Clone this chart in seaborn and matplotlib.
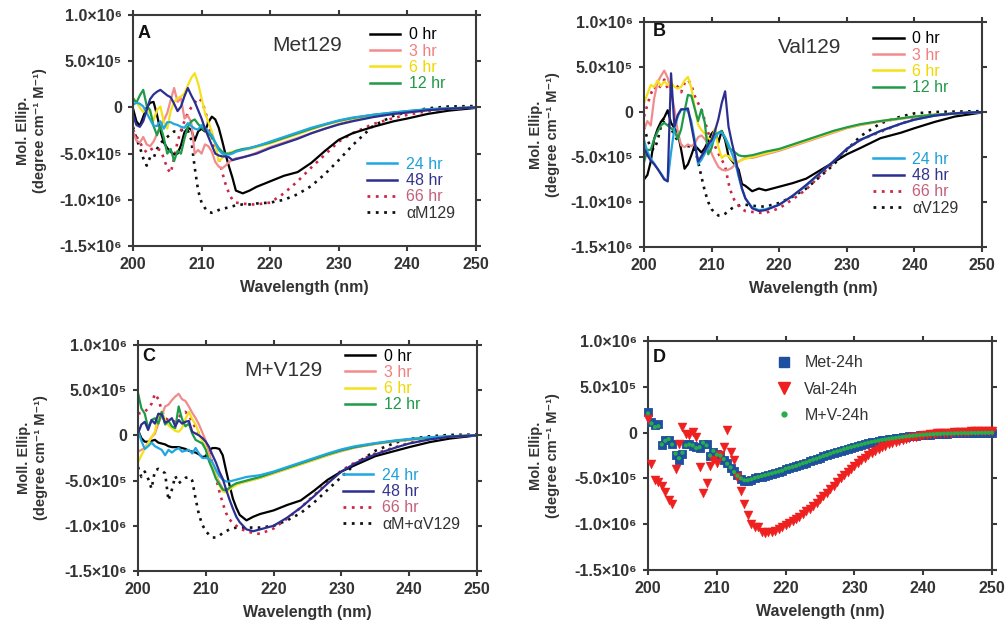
import matplotlib
matplotlib.use("Agg")
import matplotlib.pyplot as plt
from matplotlib.lines import Line2D
import numpy as np
import seaborn as sns

plt.rcParams['font.family'] = ['Liberation Sans', 'DejaVu Sans']

# wavelength sampling (nm): 0.5 nm over the noisy far-UV part, sparser along the tail
wl_noisy = np.arange(200, 215.5, 0.5)
wl_tail = [216, 217, 218, 220, 222, 224, 226, 228, 230, 232, 235, 238, 240, 243, 246, 250]
wl = np.concatenate([wl_noisy, wl_tail])

# all ellipticities in units of 1e5 degree cm-1 M-1
# --- panel A: Met129 ---
a_0 = [-0.1, -1.5, -2.0, -1.0, 0.0, 0.5, 0.6, -0.8, -2.5, -3.8, -4.4, -4.8, -5.1, -5.0, -4.1, -2.7,
       -2.2, -2.4, -3.6, -2.6, -2.3, -2.6, -1.6, -1.0, -1.3, -2.2, -3.6, -5.1, -6.4, -7.6, -9.0,
       -9.3, -9.0, -8.6, -8.0, -7.4, -7.0, -6.0, -4.7, -3.5, -2.8, -2.1, -1.5, -1.2, -0.7, -0.35, -0.05]
a_3 = [-2.6, -3.6, -3.8, -3.2, -4.0, -4.2, -3.7, -2.9, -2.0, -1.4, -0.6, 0.8, 2.1, 0.6, 1.0, -1.2,
       -0.9, -1.6, -5.0, -4.6, -5.0, -4.0, -4.2, -4.8, -5.9, -6.4, -6.6, -6.3, -5.9, -5.7, -5.5,
       -5.4, -5.2, -4.9, -4.3, -3.8, -3.3, -2.8, -2.3, -1.8, -1.4, -1.0, -0.7, -0.55, -0.3, -0.15, 0.0]
a_6 = [1.0, 0.6, 0.0, -0.5, -0.2, -0.6, -1.4, -0.3, 0.1, -1.6, -2.3, -0.4, 0.6, 1.0, 1.2, 1.5,
       2.4, 3.2, 3.7, 2.6, 1.0, -0.6, -1.6, -2.6, -4.0, -5.8, -5.5, -5.1, -4.9, -4.8, -4.7,
       -4.6, -4.5, -4.3, -3.9, -3.4, -2.9, -2.4, -1.9, -1.5, -1.2, -0.85, -0.6, -0.45, -0.25, -0.1, 0.0]
a_12 = [1.0, 0.5, 1.3, 1.9, 0.2, -0.3, -2.0, -3.0, -2.0, -3.3, -5.0, -4.5, -5.8, -4.7, -5.0, -3.4,
        -2.1, -1.5, -1.3, -1.8, -2.2, -2.5, -2.8, -3.2, -3.8, -4.4, -4.8, -5.0, -5.0, -4.9, -4.7,
        -4.5, -4.4, -4.2, -3.8, -3.3, -2.8, -2.3, -1.85, -1.45, -1.15, -0.8, -0.55, -0.4, -0.2, -0.1, 0.0]
a_24 = [0.3, 0.5, 0.4, 0.1, -0.6, -1.3, -2.0, -2.0, -1.5, -2.3, -1.6, -1.6, -1.8, -1.9, -2.1, -2.2,
        -1.7, -2.0, -2.3, -2.4, -1.9, -2.2, -2.6, -3.0, -3.8, -4.6, -5.0, -5.1, -5.1, -5.0, -4.8,
        -4.6, -4.4, -4.2, -3.7, -3.2, -2.7, -2.2, -1.8, -1.4, -1.1, -0.8, -0.55, -0.4, -0.2, -0.1, 0.0]
a_48 = [-0.8, -1.9, -2.1, -1.5, -0.3, 0.9, 1.4, 1.7, 1.9, 1.6, 1.3, 1.1, 0.4, -0.4, 0.1, 1.2,
        2.1, 1.3, 0.6, -0.3, -1.2, -2.3, -3.2, -4.1, -5.0, -5.2, -5.3, -5.3, -5.4, -5.7, -5.6,
        -5.4, -5.2, -5.0, -4.4, -3.9, -3.4, -2.8, -2.3, -1.85, -1.5, -1.05, -0.7, -0.55, -0.3, -0.15, 0.0]
a_66 = [-2.4, -3.1, -3.8, -4.4, -4.9, -4.6, -4.4, -4.5, -4.6, -5.5, -6.6, -7.1, -5.5, -3.7, -2.5, -1.5,
        -0.6, 0.0, 0.5, 1.0, 0.7, -0.3, -1.8, -3.2, -4.6, -5.6, -7.0, -8.3, -9.3, -10.0, -10.3,
        -10.4, -10.5, -10.5, -10.3, -9.3, -8.0, -6.5, -5.1, -3.7, -2.8, -1.8, -1.15, -0.8, -0.4, -0.15, 0.0]
a_alpha = [-2.1, -3.4, -4.3, -5.5, -6.3, -5.4, -5.5, -4.5, -3.9, -3.5, -3.2, -2.9, -2.6, -2.6, -2.5, -2.3,
           -2.5, -3.5, -6.5, -9.0, -10.3, -10.9, -11.3, -11.4, -11.3, -11.1, -11.0, -10.9, -10.8, -10.7, -10.6,
           -10.5, -10.5, -10.4, -10.3, -10.0, -9.4, -8.5, -7.2, -5.7, -4.1, -2.0, -0.9, -0.5, -0.1, 0.1, 0.15]

# --- panel B: Val129 ---
b_0 = [-7.5, -7.0, -5.5, -3.0, -1.9, -1.1, -0.6, 0.2, -1.2, -1.8, -2.3, -4.2, -6.3, -5.8, -4.8, -3.7,
       -4.1, -4.5, -4.0, -3.2, -2.4, -2.0, -3.4, -2.1, -3.1, -4.9, -5.4, -5.9, -6.4, -8.0, -8.2,
       -8.8, -8.5, -8.7, -8.3, -7.9, -7.4, -6.5, -5.6, -4.7, -4.0, -2.9, -2.3, -1.8, -1.1, -0.5, -0.05]
b_3 = [-2.0, -1.0, -1.5, 1.5, 3.3, 4.0, 4.6, 3.8, 2.3, 0.3, -2.2, -3.7, -3.9, -3.6, -3.8, -3.5,
       -2.8, -2.6, -3.0, -3.6, -4.6, -5.4, -6.1, -6.4, -6.5, -6.4, -6.2, -5.8, -5.5, -5.3, -5.1,
       -5.1, -4.9, -4.7, -4.3, -3.8, -3.3, -2.8, -2.3, -1.8, -1.45, -1.05, -0.75, -0.55, -0.3, -0.15, 0.0]
b_6 = [1.0, 2.0, 3.0, 2.8, 3.5, 2.9, 3.4, 3.0, 3.3, 2.8, 2.6, 2.8, 3.5, 3.9, 2.7, 0.5,
       -1.4, -2.0, -2.4, -2.9, -3.1, -1.8, -3.9, -5.1, -4.8, -4.9, -5.3, -5.6, -5.5, -5.3, -5.2,
       -5.0, -4.8, -4.6, -4.2, -3.7, -3.2, -2.7, -2.2, -1.75, -1.4, -1.0, -0.7, -0.5, -0.3, -0.15, 0.0]
b_12 = [-5.6, -4.2, -4.2, -3.0, -2.2, -1.5, -1.2, -1.5, -1.8, -2.1, -3.0, -1.9, 0.1, 1.9, 1.8, 0.4,
        -1.0, 0.3, -1.2, -4.7, -4.0, -2.5, -2.3, -2.1, -2.9, -4.0, -4.2, -4.5, -4.8, -4.9, -4.9,
        -4.8, -4.6, -4.4, -4.1, -3.6, -3.1, -2.6, -2.1, -1.7, -1.35, -1.0, -0.7, -0.5, -0.3, -0.15, 0.0]
b_24 = [-3.1, -4.4, -5.2, -5.7, -6.3, -6.8, -7.4, -7.7, -4.5, -1.8, -0.5, 0.3, 0.3, 0.1, -1.0, -3.1,
        -5.8, -5.3, -4.6, -4.0, -3.5, -2.9, -2.3, -2.3, -2.8, -3.6, -4.6, -5.6, -7.2, -8.6, -9.6,
        -10.6, -10.9, -10.8, -10.3, -9.3, -8.2, -6.8, -5.5, -4.1, -3.1, -2.1, -1.3, -0.85, -0.4, -0.15, 0.0]
b_48 = [-4.0, -4.8, -5.4, -5.8, -6.3, -6.9, -7.5, -7.7, 4.3, -1.6, -0.3, 0.3, 0.3, 0.4, -1.5, -3.5,
        -5.5, -4.9, -4.3, -3.6, -3.1, -2.1, -0.8, 1.0, 2.3, -1.6, -3.4, -5.0, -6.9, -8.5, -9.6,
        -10.7, -11.0, -10.9, -10.3, -9.3, -8.1, -6.8, -5.5, -4.1, -3.1, -2.1, -1.3, -0.85, -0.4, -0.15, 0.0]
b_66 = [-0.5, 0.8, 2.0, 2.8, 2.4, 3.0, 3.6, 2.6, 3.2, 3.1, 2.8, 2.2, 3.2, 3.6, 3.0, 1.8,
        1.0, 0.3, -1.0, -2.3, -3.2, -3.8, -4.6, -5.3, -6.0, -7.9, -9.2, -10.0, -10.4, -10.8, -11.0,
        -11.1, -11.2, -11.2, -10.7, -9.7, -8.6, -7.1, -5.7, -4.1, -3.1, -2.2, -1.3, -0.75, -0.35, -0.15, 0.0]
b_alpha = [-1.6, -3.0, -4.0, -4.2, -3.2, -1.6, -0.9, -1.2, -1.8, -2.6, -3.2, -3.7, -3.8, -3.8, -3.8, -4.0,
           -5.5, -7.2, -8.8, -10.0, -10.8, -11.2, -11.5, -11.5, -11.3, -11.0, -10.7, -10.5, -10.4, -10.3, -10.3,
           -10.4, -10.5, -10.5, -10.1, -9.4, -8.5, -7.2, -5.9, -4.2, -2.7, -1.25, -0.5, -0.15, 0.0, 0.05, 0.1]

# --- panel C: M+V129 ---
c_0 = [0.6, -0.3, -0.7, -0.7, -0.6, -0.5, -0.8, -0.9, -1.0, -1.2, -1.3, -1.3, -1.3, -1.4, -1.5, -1.7,
       -1.8, -1.9, -2.1, -2.4, -2.3, -1.6, -1.4, -1.4, -1.5, -2.2, -3.9, -5.5, -7.0, -8.0, -8.8,
       -9.4, -9.0, -8.7, -8.3, -7.7, -7.2, -6.1, -4.9, -4.0, -3.3, -2.3, -1.7, -1.3, -0.75, -0.35, 0.0]
c_3 = [-1.8, -1.6, -1.4, -0.8, -0.2, 0.2, 1.3, 2.2, 3.2, 3.4, 3.9, 4.3, 4.6, 4.0, 3.8, 3.2,
       2.5, 1.9, 1.2, 0.3, -0.6, -2.0, -3.3, -4.4, -5.2, -5.9, -6.1, -5.8, -5.6, -5.4, -5.3,
       -5.1, -4.9, -4.7, -4.2, -3.7, -3.2, -2.7, -2.2, -1.75, -1.35, -0.95, -0.65, -0.5, -0.3, -0.15, 0.0]
c_6 = [-3.0, -2.2, -1.5, -0.9, -0.2, 0.4, 2.2, 2.6, 1.7, 1.1, 0.8, 0.5, 0.4, 0.8, 1.8, 2.6,
       1.8, 1.2, 0.2, -0.6, -1.4, -2.6, -3.6, -4.5, -5.5, -6.2, -6.3, -6.0, -5.7, -5.5, -5.3,
       -5.1, -4.9, -4.7, -4.2, -3.7, -3.2, -2.7, -2.2, -1.7, -1.3, -0.9, -0.6, -0.45, -0.25, -0.1, 0.0]
c_12 = [4.7, 3.0, 2.4, 0.8, 1.7, 1.9, 1.3, 2.6, 1.2, 1.6, 1.0, 0.8, 3.2, 1.8, 1.0, 1.3,
        0.2, -0.5, -0.7, -0.9, -1.6, -2.9, -3.8, -4.8, -5.4, -6.0, -6.1, -5.8, -5.5, -5.3, -5.2,
        -5.0, -4.8, -4.6, -4.1, -3.6, -3.1, -2.6, -2.1, -1.65, -1.3, -0.9, -0.6, -0.45, -0.25, -0.1, 0.0]
c_24 = [0.6, -0.6, -1.5, -1.2, -0.8, -1.2, -1.4, -1.6, -2.2, -1.6, -1.9, -1.6, -1.4, -1.8, -1.7, -1.6,
        -2.0, -1.4, -2.0, -2.5, -2.5, -2.6, -3.0, -3.8, -4.5, -4.9, -5.1, -5.1, -5.0, -4.9, -4.8,
        -4.6, -4.5, -4.4, -4.0, -3.5, -3.0, -2.5, -2.0, -1.55, -1.2, -0.85, -0.55, -0.4, -0.2, -0.1, 0.0]
c_48 = [0.2, 1.2, 1.5, 0.6, 1.7, 1.3, 2.4, 2.3, 1.4, 1.6, 1.9, 1.0, 1.7, 1.3, 1.5, 1.6,
        0.4, 0.2, 0.0, -0.3, -0.7, -1.3, -2.2, -3.0, -4.0, -4.8, -6.0, -7.1, -8.1, -9.0, -9.6,
        -10.4, -10.6, -10.4, -10.0, -9.1, -8.0, -6.7, -5.3, -4.0, -3.1, -2.1, -1.35, -0.9, -0.45, -0.15, 0.0]
c_66 = [2.4, 2.5, 2.6, 3.0, 3.5, 4.6, 4.0, 2.8, 1.9, 1.7, 1.5, 1.6, 2.0, 2.4, 2.6, 2.2,
        1.5, 0.8, 0.2, -0.2, -0.6, -1.8, -3.2, -4.7, -6.2, -7.5, -8.6, -9.3, -9.7, -10.0, -10.3,
        -10.6, -10.8, -10.9, -10.3, -9.2, -8.0, -6.6, -5.2, -3.9, -3.0, -2.0, -1.3, -0.85, -0.4, -0.15, 0.0]
c_alpha = [-3.5, -4.6, -4.0, -4.8, -5.9, -3.9, -3.7, -3.9, -4.2, -7.2, -6.0, -4.5, -5.3, -5.0, -4.7, -4.6,
           -5.0, -7.0, -8.8, -9.9, -10.6, -11.0, -11.3, -11.3, -11.1, -10.8, -10.6, -10.4, -10.3, -10.2, -10.2,
           -10.2, -10.2, -10.2, -10.0, -9.4, -8.6, -7.4, -6.0, -4.6, -3.2, -1.7, -0.8, -0.4, -0.1, 0.05, 0.1]

# --- panel D: 24 h samples, 0.5 nm steps ---
wl_d = np.arange(200, 250.5, 0.5)
d_met = [2.2, 1.2, 0.8, 0.9, -1.4, -0.8, -0.8, -1.2, -2.4, -3.0, -2.3, -1.3, -1.2, -1.5, -1.6, -1.7,
         -1.2, -1.3, -2.6, -2.1, -2.3, -2.4, -3.0, -3.3, -3.9, -4.2, -4.6, -5.1, -5.3, -5.3, -5.2,
         -5.0, -4.9, -4.8, -4.7, -4.6, -4.5, -4.4, -4.3, -4.2, -4.0,
         -3.9, -3.8, -3.7, -3.55, -3.4, -3.3, -3.15, -3.0, -2.9, -2.75,
         -2.6, -2.5, -2.35, -2.2, -2.1, -2.0, -1.85, -1.75, -1.65, -1.55,
         -1.45, -1.35, -1.25, -1.15, -1.07, -1.0, -0.92, -0.85, -0.78, -0.72,
         -0.66, -0.6, -0.55, -0.5, -0.46, -0.42, -0.38, -0.34, -0.3, -0.27,
         -0.24, -0.21, -0.19, -0.17, -0.15, -0.13, -0.11, -0.1, -0.09, -0.08,
         -0.07, -0.06, -0.05, -0.05, -0.04, -0.04, -0.03, -0.03, -0.02, -0.02]
d_val = [1.5, -3.4, -5.2, -5.4, -5.8, -6.5, -7.4, -7.8, -4.0, -1.2, 0.6, -0.2, -0.3, 0.1, -0.5, -3.8,
         -6.6, -5.5, -3.6, -3.0, -3.3, -2.4, -1.6, 0.3, -2.1, -3.0, -4.8, -6.4, -7.8, -9.0, -10.0,
         -10.3, -10.3, -10.8, -11.0, -10.9, -10.8, -10.7, -10.5, -10.3, -10.1,
         -9.9, -9.7, -9.45, -9.2, -8.9, -8.6, -8.3, -8.0, -7.65, -7.3,
         -6.95, -6.6, -6.2, -5.8, -5.4, -5.0, -4.65, -4.3, -3.95, -3.6,
         -3.3, -3.0, -2.75, -2.5, -2.25, -2.0, -1.8, -1.6, -1.45, -1.3,
         -1.15, -1.0, -0.9, -0.8, -0.7, -0.6, -0.52, -0.45, -0.38, -0.3,
         -0.25, -0.2, -0.15, -0.1, -0.07, -0.04, -0.01, 0.0, 0.03, 0.05,
         0.07, 0.09, 0.1, 0.12, 0.13, 0.14, 0.15, 0.15, 0.16, 0.16]
d_mv = [2.1, 1.0, 0.6, 0.7, -1.3, -0.9, -0.7, -1.3, -2.3, -2.8, -2.2, -1.4, -1.3, -1.4, -1.7, -1.6,
        -1.1, -1.4, -2.5, -2.0, -2.4, -2.5, -2.9, -3.4, -3.8, -4.3, -4.7, -5.0, -5.2, -5.2, -5.1,
        -4.95, -4.85, -4.75, -4.65, -4.55, -4.45, -4.35, -4.25, -4.15, -3.95,
        -3.85, -3.75, -3.65, -3.5, -3.35, -3.25, -3.1, -2.95, -2.85, -2.7,
        -2.55, -2.45, -2.3, -2.15, -2.05, -1.95, -1.8, -1.7, -1.6, -1.5,
        -1.4, -1.3, -1.2, -1.1, -1.02, -0.95, -0.88, -0.8, -0.74, -0.68,
        -0.62, -0.57, -0.52, -0.47, -0.43, -0.39, -0.35, -0.31, -0.27, -0.24,
        -0.21, -0.19, -0.17, -0.15, -0.13, -0.11, -0.1, -0.09, -0.08, -0.07,
        -0.06, -0.05, -0.05, -0.04, -0.04, -0.03, -0.03, -0.02, -0.02, -0.01]

labels_early = ['0 hr', '3 hr', '6 hr', '12 hr']
labels_late = ['24 hr', '48 hr', '66 hr']
line_colors = ['#000000', '#f28c8c', '#f5e11a', '#1f9a48', '#20a6e0', '#2b2f90', '#cc2845', '#111111']
text_colors = ['#000000', '#f08080', '#f0d800', '#1f9a48', '#20a0d8', '#34348f', '#c4607a', '#333333']
line_styles = ['-', '-', '-', '-', '-', '-', (0, (1, 2)), (0, (1, 2))]
draw_order = [7, 6, 0, 1, 2, 3, 4, 5]

y_ticks = [-15, -10, -5, 0, 5, 10]
y_tick_labels = ['-1.5×10⁶', '-1.0×10⁶', '-5.0×10⁵', '0', '5.0×10⁵', '1.0×10⁶']
x_ticks = [200, 210, 220, 230, 240, 250]
GREY = '#333333'

fig = plt.figure(figsize=(10.05, 6.26), dpi=100)
ax_a = fig.add_axes([0.1323, 0.607, 0.3413, 0.369])
ax_b = fig.add_axes([0.6408, 0.6054, 0.3363, 0.3594])
ax_c = fig.add_axes([0.1373, 0.0879, 0.3373, 0.361])
ax_d = fig.add_axes([0.6448, 0.0895, 0.3423, 0.3658])


def style_axes(ax, ylabel, ylab_x):
    ax.set_xlim(200, 250)
    ax.set_ylim(-15, 10)
    ax.set_xticks(x_ticks)
    ax.set_xticklabels([str(t) for t in x_ticks])
    ax.set_yticks(y_ticks)
    ax.set_yticklabels(y_tick_labels)
    for sp in ax.spines.values():
        sp.set_linewidth(1.5)
        sp.set_color('#3a3a3a')
    ax.tick_params(direction='out', length=3.5, width=1.5, color='#3a3a3a', pad=4.5,
                   top=True, right=True, labelsize=11.5, labelcolor=GREY)
    for lab in ax.get_xticklabels() + ax.get_yticklabels():
        lab.set_fontweight('bold')
    ax.set_xlabel('Wavelength (nm)', fontsize=11.5, fontweight='bold', color=GREY, labelpad=6)
    ax.set_ylabel(ylabel, fontsize=10.5, fontweight='bold', color=GREY, linespacing=1.25)
    ax.yaxis.set_label_coords(ylab_x, 0.5)


def draw_lines(ax, curves, alpha_label, title, letter, title_xy, letter_xy, leg1_xy, leg2_xy):
    for i in draw_order:
        sns.lineplot(x=wl, y=curves[i], ax=ax, color=line_colors[i], linestyle=line_styles[i],
                     linewidth=1.6 if i < 6 else 1.9, estimator=None, sort=False, legend=False)
    handles = [Line2D([], [], color=line_colors[i], linestyle=line_styles[i],
                      linewidth=1.8 if i < 6 else 2.0) for i in range(8)]
    labels = labels_early + labels_late + [alpha_label]
    common = dict(loc='upper left', frameon=False, fontsize=11.5, handlelength=1.9,
                  handletextpad=0.55, labelspacing=0.08, borderpad=0, borderaxespad=0)
    leg1 = ax.legend(handles[:4], labels[:4], bbox_to_anchor=leg1_xy,
                     labelcolor=text_colors[:4], **common)
    ax.add_artist(leg1)
    ax.legend(handles[4:], labels[4:], bbox_to_anchor=leg2_xy, labelcolor=text_colors[4:], **common)
    ax.text(*title_xy, title, transform=ax.transAxes, fontsize=15, color=GREY,
            ha='center', va='center')
    ax.text(*letter_xy, letter, transform=ax.transAxes, fontsize=13, fontweight='bold',
            color='#111111', ha='left', va='center')


draw_lines(ax_a, [a_0, a_3, a_6, a_12, a_24, a_48, a_66, a_alpha], 'αM129', 'Met129', 'A',
           (0.507, 0.87), (0.012, 0.922), (0.691, 0.946), (0.682, 0.386))
draw_lines(ax_b, [b_0, b_3, b_6, b_12, b_24, b_48, b_66, b_alpha], 'αV129', 'Val129', 'B',
           (0.49, 0.889), (0.025, 0.956), (0.678, 0.958), (0.678, 0.423))
draw_lines(ax_c, [c_0, c_3, c_6, c_12, c_24, c_48, c_66, c_alpha], 'αM+αV129', 'M+V129', 'C',
           (0.428, 0.889), (0.012, 0.947), (0.611, 0.984), (0.605, 0.456))

ylab = 'Mol. Ellip.\n(degree cm⁻¹ M⁻¹)'
style_axes(ax_a, ylab, -0.25)
style_axes(ax_b, ylab, -0.25)
style_axes(ax_c, 'Moll. Ellip.\n(degree cm⁻¹ M⁻¹)', -0.265)

# panel D: scatter of the 24 h spectra
sns.scatterplot(x=wl_d, y=d_met, ax=ax_d, marker='s', s=36, color='#1f4f9f', edgecolor='#1f4f9f',
                linewidth=0.6, clip_on=False, legend=False, zorder=3)
sns.scatterplot(x=wl_d, y=d_val, ax=ax_d, marker='v', s=42, color='#ee2020', edgecolor='#ee2020',
                linewidth=0.3, clip_on=False, legend=False, zorder=4)
sns.scatterplot(x=wl_d, y=d_mv, ax=ax_d, marker='o', s=9, color='#27ae4a', edgecolor='none',
                clip_on=False, legend=False, zorder=5)
style_axes(ax_d, ylab, -0.256)
d_handles = [Line2D([], [], marker='s', ls='none', color='#1f4f9f', markersize=7),
             Line2D([], [], marker='v', ls='none', color='#ee2020', markersize=8),
             Line2D([], [], marker='o', ls='none', color='#27ae4a', markersize=3.5)]
ax_d.legend(d_handles, ['Met-24h', 'Val-24h', 'M+V-24h'], loc='upper left',
            bbox_to_anchor=(0.371, 0.937), frameon=False, fontsize=11.5, handlelength=1.0,
            handletextpad=0.8, labelspacing=0.7, borderpad=0, borderaxespad=0,
            labelcolor=GREY)
ax_d.text(0.015, 0.93, 'D', transform=ax_d.transAxes, fontsize=13, fontweight='bold',
          color='#111111', ha='left', va='center')

fig.savefig('out.png', dpi=100)
